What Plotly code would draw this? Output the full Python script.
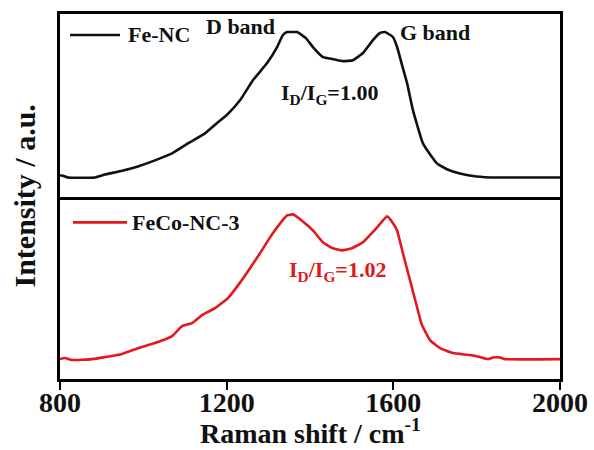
import plotly.graph_objects as go
from plotly.subplots import make_subplots

# Raman spectra (normalised intensity, arbitrary units)
shift_fenc = [800, 805, 819, 884, 908, 949, 987, 1028, 1069, 1107, 1148, 1179, 1201,
              1232, 1263, 1297, 1321, 1335, 1345, 1352, 1369, 1390, 1407, 1431, 1455,
              1479, 1503, 1527, 1551, 1568, 1580, 1599, 1609, 1621, 1633, 1647, 1671,
              1690, 1705, 1730, 1760, 1800, 1849, 1900, 2000]
intensity_fenc = [0.115, 0.115, 0.104, 0.104, 0.120, 0.141, 0.165, 0.198, 0.236, 0.291,
                  0.346, 0.407, 0.448, 0.527, 0.637, 0.731, 0.819, 0.885, 0.901, 0.901,
                  0.901, 0.868, 0.819, 0.764, 0.753, 0.742, 0.747, 0.786, 0.857, 0.896,
                  0.901, 0.874, 0.819, 0.720, 0.621, 0.473, 0.291, 0.225, 0.181, 0.148,
                  0.126, 0.110, 0.104, 0.104, 0.104]

shift_feco = [800, 812, 829, 877, 908, 949, 987, 1028, 1069, 1093, 1117, 1141, 1172,
              1203, 1232, 1256, 1280, 1304, 1321, 1345, 1359, 1380, 1407, 1431, 1455,
              1477, 1500, 1527, 1550, 1561, 1585, 1598, 1609, 1623, 1640, 1657, 1668,
              1688, 1712, 1743, 1784, 1808, 1827, 1839, 1856, 1868, 2000]
intensity_feco = [0.109, 0.115, 0.104, 0.109, 0.120, 0.137, 0.169, 0.197, 0.235, 0.290,
                  0.306, 0.350, 0.388, 0.443, 0.528, 0.607, 0.689, 0.776, 0.831, 0.896,
                  0.902, 0.869, 0.814, 0.749, 0.716, 0.705, 0.716, 0.749, 0.803, 0.831,
                  0.891, 0.858, 0.814, 0.689, 0.541, 0.393, 0.300, 0.213, 0.169, 0.142,
                  0.131, 0.120, 0.109, 0.118, 0.118, 0.109, 0.109]

x_ticks = [800, 1200, 1600, 2000]
ratio_fenc = "1.00"
ratio_feco = "1.02"

BLACK = "#111111"
RED = "#e3171c"
FONT = "Liberation Serif"

fig = make_subplots(rows=2, cols=1, shared_xaxes=True, vertical_spacing=0)

fig.add_trace(go.Scatter(x=shift_fenc, y=intensity_fenc, mode="lines",
                         line=dict(color=BLACK, width=2.6, shape="spline", smoothing=0.4),
                         name="Fe-NC", showlegend=False), row=1, col=1)
fig.add_trace(go.Scatter(x=shift_feco, y=intensity_feco, mode="lines",
                         line=dict(color=RED, width=2.6, shape="spline", smoothing=0.4),
                         name="FeCo-NC-3", showlegend=False), row=2, col=1)

frame = dict(showline=True, linecolor="black", linewidth=3,
             showgrid=False, zeroline=False, automargin=False)
fig.update_xaxes(range=[800, 2000], **frame)
# top panel draws the top border and the divider; bottom panel only its bottom line
fig.update_xaxes(showticklabels=False, ticks="", mirror=True, row=1, col=1)
fig.update_xaxes(mirror=False, tickvals=x_ticks, ticks="outside", ticklen=8,
                 tickwidth=2, tickcolor="black", ticklabelstandoff=-12,
                 tickfont=dict(family=FONT, size=28, color=BLACK, weight="bold"),
                 row=2, col=1)
fig.update_yaxes(range=[0, 1], showticklabels=False, ticks="", mirror=True, **frame)

annotations = [
    # key labels
    dict(xref="x", yref="y", x=958, y=0.885, text="<b>Fe-NC</b>",
         xanchor="left", yanchor="middle", font=dict(size=22, color=BLACK)),
    dict(xref="x2", yref="y2", x=968, y=0.858, text="<b>FeCo-NC-3</b>",
         xanchor="left", yanchor="middle", font=dict(size=22, color=BLACK)),
    # band labels
    dict(xref="x", yref="y", x=1234, y=0.929, text="<b>D band</b>",
         yanchor="middle", font=dict(size=22, color=BLACK)),
    dict(xref="x", yref="y", x=1700, y=0.896, text="<b>G band</b>",
         yanchor="middle", font=dict(size=22, color=BLACK)),
    # intensity ratios
    dict(xref="x", yref="y", x=1447, y=0.56, yanchor="middle",
         text="<b>I<sub>D</sub>/I<sub>G</sub>=" + ratio_fenc + "</b>",
         font=dict(size=22, color=BLACK)),
    dict(xref="x2", yref="y2", x=1465, y=0.59, yanchor="middle",
         text="<b>I<sub>D</sub>/I<sub>G</sub>=" + ratio_feco + "</b>",
         font=dict(size=22, color=RED)),
    # axis titles
    dict(xref="paper", yref="paper", x=0.5, y=-0.145, yanchor="middle",
         xanchor="center", text="<b>Raman shift / cm<sup>-1</sup></b>",
         font=dict(size=28, color=BLACK)),
    dict(xref="paper", yref="paper", x=-0.072, y=0.5, textangle=-90,
         xanchor="center", yanchor="middle",
         text="<b>Intensity / a.u.</b>", font=dict(size=30, color=BLACK)),
]
for a in annotations:
    a["showarrow"] = False
    a["font"]["family"] = FONT

shapes = [
    dict(type="line", xref="x domain", yref="y domain", x0=0.02, x1=0.12,
         y0=0.885, y1=0.885, line=dict(color=BLACK, width=2.6)),
    dict(type="line", xref="x2 domain", yref="y2 domain", x0=0.026, x1=0.134,
         y0=0.858, y1=0.858, line=dict(color=RED, width=2.6)),
]

fig.update_layout(
    width=594, height=450,
    margin=dict(l=60, r=34, t=14, b=71, autoexpand=False),
    plot_bgcolor="white", paper_bgcolor="white",
    annotations=annotations, shapes=shapes,
    font=dict(family=FONT),
)

fig.write_html("out.html")
